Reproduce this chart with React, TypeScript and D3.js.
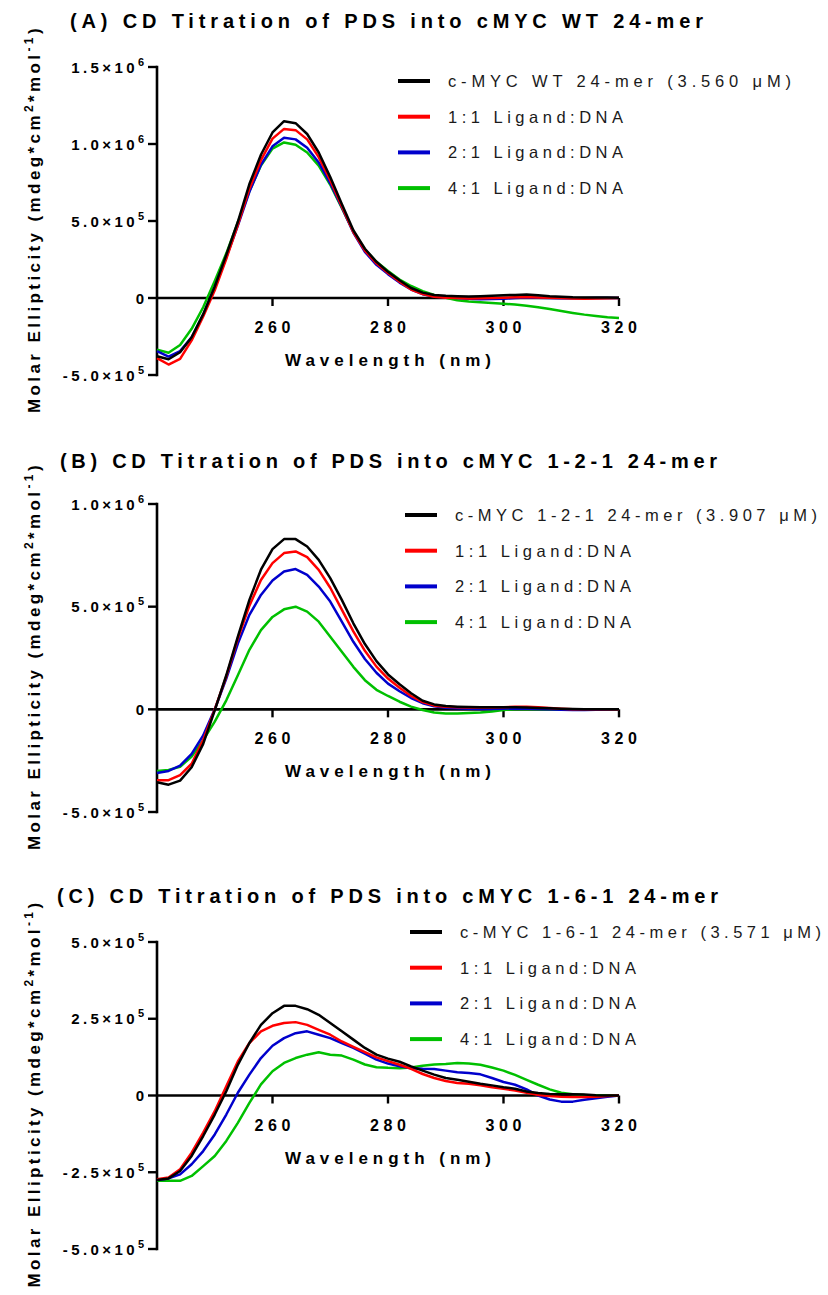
import React, { useRef, useEffect } from "react";
import * as d3 from "d3";

// wavelength (nm), every 2 nm
const wavelengths = [
  240, 242, 244, 246, 248, 250, 252, 254, 256, 258,
  260, 262, 264, 266, 268, 270, 272, 274, 276, 278,
  280, 282, 284, 286, 288, 290, 292, 294, 296, 298,
  300, 302, 304, 306, 308, 310, 312, 314, 316, 318,
  320,
];

// molar ellipticity in units of 10^3 mdeg*cm2*mol-1
// (A) WT 24-mer
const wtDna = [
  -378, -398, -352, -255, -105, 75, 280, 495, 740, 930,
  1075, 1148, 1135, 1065, 945, 785, 610, 440, 320, 235,
  170, 115, 65, 35, 20, 14, 12, 10, 12, 15,
  18, 20, 22, 18, 12, 8, 5, 4, 3, 3,
  2,
];
const wt11 = [
  -390, -432, -395, -275, -120, 50, 255, 475, 710, 895,
  1035, 1098, 1090, 1030, 915, 765, 595, 428, 308, 225,
  162, 105, 55, 25, 8, 2, 0, -3, -2, 0,
  2, 5, 6, 4, 2, 0, -3, -5, -3, -1,
  0,
];
const wt21 = [
  -345, -380, -345, -255, -110, 70, 265, 470, 690, 865,
  985, 1040, 1030, 975, 880, 745, 590, 425, 300, 215,
  155, 100, 55, 25, 10, 4, 0, -5, -8, -7,
  -5, 0, 3, 2, 0, -1, -2, -1, 0, 0,
  0,
];
const wt41 = [
  -335, -355, -305, -200, -60, 110, 290, 490, 695, 860,
  970, 1010, 995, 945, 860, 735, 585, 430, 315, 235,
  175, 120, 78, 45, 20, 2, -15, -22, -27, -32,
  -37, -42, -50, -60, -72, -85, -97, -108, -117, -125,
  -130,
];

// (B) 1-2-1 24-mer
const m121Dna = [
  -355, -367, -347, -282, -168, -5, 166, 354, 533, 680,
  780, 829, 829, 793, 728, 639, 533, 419, 318, 235,
  170, 122, 78, 42, 24, 16, 13, 11, 10, 10,
  10, 10, 9, 7, 5, 3, 2, 1, 0, 0,
  0,
];
const m121_11 = [
  -345, -345, -320, -265, -150, 0, 160, 345, 505, 630,
  712, 761, 769, 741, 679, 592, 486, 380, 285, 208,
  150, 105, 65, 35, 18, 12, 10, 9, 9, 9,
  10, 12, 12, 10, 6, 3, 1, 0, 0, 0,
  0,
];
const m121_21 = [
  -310, -300, -274, -217, -127, 0, 150, 320, 460, 557,
  627, 671, 683, 655, 598, 525, 427, 329, 245, 178,
  125, 88, 55, 30, 15, 8, 5, 3, 2, 2,
  3, 4, 3, 2, 0, -2, -3, -3, -2, -1,
  0,
];
const m121_41 = [
  -300, -295, -280, -230, -150, -60, 44, 166, 290, 386,
  450, 487, 500, 476, 427, 354, 280, 207, 142, 95,
  65, 37, 13, -3, -15, -20, -20, -18, -15, -10,
  -3, 0, 1, 1, 0, 0, 0, 0, 0, 0,
  0,
];

// (C) 1-6-1 24-mer
const m161Dna = [
  -275, -270, -246, -197, -132, -62, 14, 100, 171, 230,
  268, 292, 292, 281, 263, 236, 209, 182, 155, 133,
  120, 110, 95, 81, 68, 57, 51, 45, 38, 33,
  27, 22, 13, 8, 5, 4, 4, 3, 1, 0,
  0,
];
const m161_11 = [
  -273, -267, -240, -186, -121, -51, 30, 111, 171, 209,
  227, 236, 239, 230, 214, 198, 176, 158, 141, 124,
  112, 100, 87, 70, 57, 47, 41, 38, 33, 27,
  22, 16, 9, 2, -2, -4, -5, -5, -4, -2,
  0,
];
const m161_21 = [
  -275, -270, -257, -224, -181, -127, -62, 9, 68, 122,
  162, 187, 203, 209, 198, 187, 171, 155, 136, 117,
  104, 95, 89, 87, 86, 81, 76, 73, 69, 57,
  44, 35, 20, 0, -13, -20, -20, -14, -9, -4,
  0,
];
const m161_41 = [
  -278, -278, -278, -262, -230, -197, -148, -89, -24, 36,
  79, 106, 122, 133, 141, 133, 130, 117, 101, 92,
  90, 89, 91, 97, 101, 103, 106, 104, 100, 91,
  81, 67, 51, 35, 20, 9, 4, 2, 1, 0,
  0,
];

const ratioLabels = ["1:1 Ligand:DNA", "2:1 Ligand:DNA", "4:1 Ligand:DNA"];
const seriesColors = ["#000000", "#ff0000", "#0000cc", "#00c000"];
const xTicks = [260, 280, 300, 320];

const panels = [
  {
    title: "(A) CD Titration of PDS into cMYC WT 24-mer",
    legend: ["c-MYC WT 24-mer (3.560 μM)", ...ratioLabels],
    series: [wtDna, wt11, wt21, wt41],
    yDomain: [-500, 1500],
    yTicks: [-500, 0, 500, 1000, 1500],
  },
  {
    title: "(B) CD Titration of PDS into cMYC 1-2-1 24-mer",
    legend: ["c-MYC 1-2-1 24-mer (3.907 μM)", ...ratioLabels],
    series: [m121Dna, m121_11, m121_21, m121_41],
    yDomain: [-500, 1000],
    yTicks: [-500, 0, 500, 1000],
  },
  {
    title: "(C) CD Titration of PDS into cMYC 1-6-1 24-mer",
    legend: ["c-MYC 1-6-1 24-mer (3.571 μM)", ...ratioLabels],
    series: [m161Dna, m161_11, m161_21, m161_41],
    yDomain: [-500, 500],
    yTicks: [-500, -250, 0, 250, 500],
  },
];

// where each panel sits on the page
const layouts = [
  { top: 67, bottom: 375, titleX: 70, titleY: 28, titleW: 633, legendX: 398, legendY: 81, legendW: [343, 175] },
  { top: 504, bottom: 812, titleX: 60, titleY: 468, titleW: 657, legendX: 405, legendY: 515, legendW: [362, 176] },
  { top: 942, bottom: 1249, titleX: 57, titleY: 903, titleW: 661, legendX: 410, legendY: 932, legendW: [361, 176] },
];

const W = 828, H = 1295;
const X0 = 157, X1 = 619;
const FONT = "'Liberation Sans', Arial, Helvetica, sans-serif";

// 1500 -> ["1.5×10", "6"]
const sci = (v: number) => {
  if (v === 0) return ["0", ""];
  const val = v * 1000;
  const e = Math.floor(Math.log10(Math.abs(val)));
  return [`${(val / Math.pow(10, e)).toFixed(1)}×10`, String(e)];
};

const drawCharts = (elt: SVGSVGElement) => {
  const svg = d3.select(elt);
  svg.selectAll("*").remove();

  const x = d3.scaleLinear().domain([240, 320]).range([X0, X1]);

  panels.forEach((p, i) => {
    const L = layouts[i];
    const g = svg.append("g").attr("font-family", FONT);
    const y = d3.scaleLinear().domain(p.yDomain).range([L.bottom, L.top]);
    const y0 = y(0);

    // title
    g.append("text")
      .attr("x", L.titleX).attr("y", L.titleY)
      .attr("font-size", 20).attr("font-weight", "bold")
      .attr("textLength", L.titleW).attr("lengthAdjust", "spacing")
      .text(p.title);

    // y axis
    g.append("line")
      .attr("x1", X0).attr("x2", X0)
      .attr("y1", y(p.yDomain[1])).attr("y2", y(p.yDomain[0]))
      .attr("stroke", "#000").attr("stroke-width", 2.6).attr("stroke-linecap", "square");
    p.yTicks.forEach((t) => {
      g.append("line")
        .attr("x1", X0 - 9).attr("x2", X0)
        .attr("y1", y(t)).attr("y2", y(t))
        .attr("stroke", "#000").attr("stroke-width", 2.4);
      const [main, sup] = sci(t);
      const txt = g.append("text")
        .attr("x", 144).attr("y", y(t) + 5.5)
        .attr("text-anchor", "end")
        .attr("font-size", 15).attr("font-weight", "bold");
      txt.append("tspan").attr("letter-spacing", sup ? 3.4 : 0).text(main);
      if (sup) {
        txt.append("tspan").attr("font-size", 11).attr("dy", -7).text(sup);
      }
    });

    // y axis title
    const yl = g.append("text")
      .attr("transform", `translate(40,${(L.top + L.bottom) / 2 - 2}) rotate(-90)`)
      .attr("text-anchor", "middle")
      .attr("font-size", 17).attr("font-weight", "bold")
      .attr("letter-spacing", 3.4);
    yl.append("tspan").text("Molar Ellipticity (mdeg*cm");
    yl.append("tspan").attr("font-size", 12).attr("dy", -7).text("2");
    yl.append("tspan").attr("dy", 7).text("*mol");
    yl.append("tspan").attr("font-size", 12).attr("dy", -7).text("-1");
    yl.append("tspan").attr("dy", 7).text(")");

    // x axis along zero
    g.append("line")
      .attr("x1", X0).attr("x2", X1)
      .attr("y1", y0).attr("y2", y0)
      .attr("stroke", "#000").attr("stroke-width", 2.6);
    xTicks.forEach((t) => {
      g.append("line")
        .attr("x1", x(t)).attr("x2", x(t))
        .attr("y1", y0).attr("y2", y0 + 8)
        .attr("stroke", "#000").attr("stroke-width", 2.4);
      g.append("text")
        .attr("x", x(t)).attr("y", y0 + 35)
        .attr("text-anchor", "middle")
        .attr("font-size", 16).attr("font-weight", "bold")
        .attr("textLength", 36).attr("lengthAdjust", "spacing")
        .text(String(t));
    });
    g.append("text")
      .attr("x", (X0 + X1) / 2).attr("y", y0 + 68)
      .attr("text-anchor", "middle")
      .attr("font-size", 17).attr("font-weight", "bold")
      .attr("textLength", 206).attr("lengthAdjust", "spacing")
      .text("Wavelength (nm)");

    // curves
    const line = d3.line<number>()
      .x((d, k) => x(wavelengths[k]))
      .y((d) => y(d));
    [3, 2, 1, 0].forEach((s) => {
      g.append("path")
        .datum(p.series[s])
        .attr("fill", "none")
        .attr("stroke", seriesColors[s])
        .attr("stroke-width", 2.5)
        .attr("stroke-linejoin", "round")
        .attr("d", line);
    });

    // legend
    p.legend.forEach((lab, k) => {
      const ly = L.legendY + k * 35.7;
      g.append("line")
        .attr("x1", L.legendX).attr("x2", L.legendX + 32)
        .attr("y1", ly).attr("y2", ly)
        .attr("stroke", seriesColors[k]).attr("stroke-width", 4);
      g.append("text")
        .attr("x", L.legendX + 50).attr("y", ly + 6)
        .attr("font-size", 16.5).attr("fill", "#1a1a1a")
        .attr("textLength", k === 0 ? L.legendW[0] : L.legendW[1])
        .attr("lengthAdjust", "spacing")
        .text(lab);
    });
  });
};

const App = () => {
  const ref = useRef<SVGSVGElement>(null);

  useEffect(() => {
    if (ref.current) drawCharts(ref.current);
  }, []);

  return (
    <svg
      ref={ref}
      width={W}
      height={H}
      style={{ position: "absolute", left: 0, top: 0, background: "#fff" }}
    />
  );
};

export default App;
